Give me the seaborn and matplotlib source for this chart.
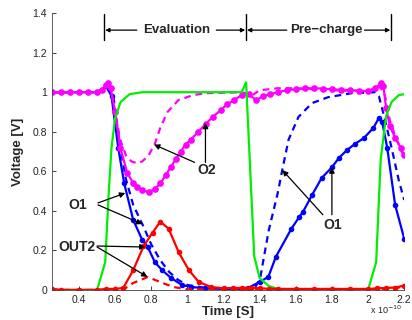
import numpy as np
import pandas as pd
import matplotlib
matplotlib.use("Agg")
import matplotlib.pyplot as plt
import seaborn as sns

# ---- data (time in units of 1e-10 s, voltage in V) ----
t_clk = [0.25, 0.5, 0.545, 0.565, 0.58, 0.6, 0.63, 0.68, 0.75, 1.3, 1.325, 1.345, 1.37, 1.4, 1.45, 1.5, 2.0, 2.045, 2.07, 2.1, 2.13, 2.17, 2.2]
v_clk = [0.0, 0.0, 0.14, 0.5, 0.72, 0.87, 0.95, 0.99, 1.0, 1.0, 1.05, 0.66, 0.17, 0.06, 0.02, 0.005, 0.0, 0.14, 0.66, 0.88, 0.95, 0.985, 0.99]

t_o2 = [0.25, 0.3, 0.35, 0.4, 0.45, 0.5, 0.53, 0.55, 0.56, 0.575, 0.6, 0.628, 0.668, 0.70, 0.723, 0.75, 0.785, 0.82, 0.851, 0.88, 0.907, 0.935, 0.963, 0.99, 1.019, 1.06, 1.102, 1.14, 1.186, 1.22, 1.258, 1.30, 1.34, 1.38, 1.42, 1.46, 1.5, 1.55, 1.6, 1.65, 1.7, 1.75, 1.8, 1.85, 1.9, 1.95, 2.0, 2.04, 2.07, 2.085, 2.1, 2.12, 2.15, 2.18, 2.2]
v_o2 = [1.0, 1.0, 1.0, 1.0, 1.0, 1.0, 1.01, 1.035, 1.045, 1.02, 0.9, 0.72, 0.59, 0.54, 0.52, 0.505, 0.495, 0.51, 0.54, 0.58, 0.62, 0.66, 0.70, 0.735, 0.76, 0.80, 0.84, 0.875, 0.91, 0.94, 0.96, 0.985, 0.99, 0.96, 0.98, 0.99, 1.0, 1.01, 1.015, 1.02, 1.02, 1.018, 1.015, 1.012, 1.01, 1.008, 1.005, 1.02, 1.045, 1.03, 0.92, 0.83, 0.77, 0.72, 0.68]

t_o2d = [0.25, 0.5, 0.53, 0.56, 0.575, 0.6, 0.628, 0.66, 0.69, 0.723, 0.75, 0.785, 0.82, 0.85, 0.89, 0.95, 1.03, 1.1, 1.3, 1.36, 1.4, 1.5, 1.6, 1.8, 2.0, 2.06, 2.09, 2.12, 2.15, 2.2]
v_o2d = [1.0, 1.0, 1.01, 1.04, 1.02, 0.9, 0.76, 0.68, 0.65, 0.64, 0.65, 0.68, 0.74, 0.82, 0.90, 0.96, 0.985, 0.995, 1.0, 0.985, 1.01, 1.02, 1.02, 1.01, 1.005, 1.03, 1.0, 0.86, 0.78, 0.67]

t_o1 = [0.25, 0.5, 0.55, 0.58, 0.617, 0.65, 0.70, 0.75, 0.78, 0.82, 0.86, 0.91, 0.97, 1.02, 1.1, 1.2, 1.3, 1.336, 1.4, 1.448, 1.49, 1.576, 1.62, 1.64, 1.69, 1.743, 1.8, 1.838, 1.883, 1.93, 1.977, 2.03, 2.06, 2.078, 2.106, 2.15, 2.2]
v_o1 = [1.0, 1.0, 1.03, 0.98, 0.72, 0.54, 0.354, 0.253, 0.218, 0.14, 0.10, 0.06, 0.025, 0.015, 0.008, 0.005, 0.005, 0.01, 0.04, 0.066, 0.168, 0.31, 0.37, 0.395, 0.48, 0.566, 0.62, 0.667, 0.707, 0.74, 0.768, 0.82, 0.87, 0.85, 0.72, 0.43, 0.26]

t_o1d = [0.25, 0.5, 0.56, 0.59, 0.625, 0.66, 0.70, 0.757, 0.8, 0.85, 0.9, 0.95, 1.0, 1.1, 1.2, 1.35, 1.38, 1.403, 1.45, 1.5, 1.526, 1.56, 1.615, 1.69, 1.78, 1.91, 2.04, 2.06, 2.09, 2.13, 2.17, 2.2]
v_o1d = [1.0, 1.0, 1.03, 0.98, 0.74, 0.56, 0.43, 0.32, 0.23, 0.15, 0.09, 0.05, 0.025, 0.01, 0.005, 0.005, 0.02, 0.06, 0.30, 0.49, 0.61, 0.76, 0.875, 0.945, 0.975, 0.995, 1.0, 0.98, 0.875, 0.72, 0.555, 0.455]

t_out2 = [0.25, 0.3, 0.4, 0.5, 0.55, 0.6, 0.645, 0.70, 0.757, 0.807, 0.85, 0.896, 0.952, 1.008, 1.063, 1.13, 1.2, 1.25, 1.3, 1.35, 1.4, 1.45, 1.5, 1.6, 1.7, 1.8, 1.9, 2.0, 2.05, 2.1, 2.15, 2.2]
v_out2 = [0.005, 0.0, 0.0, 0.0, 0.005, 0.005, 0.01, 0.10, 0.22, 0.29, 0.345, 0.31, 0.19, 0.10, 0.04, 0.015, 0.008, 0.01, 0.01, 0.012, 0.008, 0.006, 0.005, 0.005, 0.005, 0.005, 0.005, 0.005, 0.008, 0.01, 0.012, 0.022]

t_out2d = [0.25, 0.6, 0.65, 0.70, 0.78, 0.85, 0.92, 1.0, 1.3, 2.0, 2.1, 2.2]
v_out2d = [0.0, 0.0, 0.005, 0.035, 0.065, 0.04, 0.015, 0.003, 0.002, 0.002, 0.005, 0.015]

x_ticks = [0.4, 0.6, 0.8, 1.0, 1.2, 1.4, 1.6, 1.8, 2.0, 2.2]
x_ticklabels = ["0.4", "0.6", "0.8", "1", "1.2", "1.4", "1.6", "1.8", "2", "2.2"]
y_ticks = [0, 0.2, 0.4, 0.6, 0.8, 1.0, 1.2, 1.4]
y_ticklabels = ["0", "0.2", "0.4", "0.6", "0.8", "1", "1.2", "1.4"]

sns.set_style("ticks")
plt.rcParams['font.family'] = ['Liberation Sans', 'DejaVu Sans']
plt.rcParams['xtick.direction'] = 'in'
plt.rcParams['ytick.direction'] = 'in'

fig = plt.figure(figsize=(4.12, 3.2), dpi=100)
ax = fig.add_axes([0.126, 0.094, 0.855, 0.865])

MAG = "#FF00FF"
BLU = "#0000FF"
RED = "#FF0000"
GRN = "#00EE00"
LW = 1.6

def draw(t, v, color, dashed=False, marker=None, ms=4.0):
    df = pd.DataFrame({"t": t, "v": v})
    kw = dict(color=color, linewidth=LW, sort=False, estimator=None, ax=ax)
    if dashed:
        kw["linestyle"] = (0, (3.0, 2.2))
    if marker:
        kw.update(marker=marker, markersize=ms, markeredgewidth=0)
    sns.lineplot(data=df, x="t", y="v", **kw)

draw(t_o1d, v_o1d, BLU, dashed=True)
draw(t_o1, v_o1, BLU, marker="o", ms=4.0)
draw(t_o2d, v_o2d, MAG, dashed=True)
draw(t_o2, v_o2, MAG, marker="o", ms=4.8)
draw(t_clk, v_clk, GRN)
draw(t_out2d, v_out2d, RED, dashed=True)
draw(t_out2, v_out2, RED, marker="o", ms=4.0)

ax.set_xlim(0.25, 2.2)
ax.set_ylim(0, 1.4)
ax.set_xticks(x_ticks)
ax.set_xticklabels(x_ticklabels)
ax.set_yticks(y_ticks)
ax.set_yticklabels(y_ticklabels)
ax.tick_params(labelsize=7.5, length=3, width=0.6, colors="#222222")
for s in ["top", "right"]:
    ax.spines[s].set_visible(False)
for s in ["left", "bottom"]:
    ax.spines[s].set_linewidth(0.6)
    ax.spines[s].set_color("#444444")

ax.set_xlabel("Time [S]", fontsize=9.5, fontweight="bold", labelpad=1)
ax.set_ylabel("Voltage [V]", fontsize=9.5, fontweight="bold", labelpad=6)
fig.text(0.898, 0.018, r"x 10$^{-10}$", fontsize=6.5, color="#222222")

# phase brackets
for xv in [0.539, 1.325, 2.128]:
    ax.plot([xv, xv], [1.263, 1.395], color="black", lw=1.0, clip_on=False)
ap = dict(arrowstyle="-|>", color="black", lw=0.9, mutation_scale=6, shrinkA=0, shrinkB=0)
yb = 1.314
ax.annotate("", xy=(0.545, yb), xytext=(0.72, yb), arrowprops=ap)
ax.annotate("", xy=(1.32, yb), xytext=(1.16, yb), arrowprops=ap)
ax.annotate("", xy=(1.33, yb), xytext=(1.55, yb), arrowprops=ap)
ax.annotate("", xy=(2.123, yb), xytext=(1.98, yb), arrowprops=ap)
ax.text(0.94, yb, "Evaluation", fontsize=9.5, fontweight="bold", ha="center", va="center")
ax.text(1.77, yb, "Pre\u2212charge", fontsize=9.5, fontweight="bold", ha="center", va="center")

# labels with arrows
ap2 = dict(arrowstyle="-|>", color="black", lw=0.9, mutation_scale=8, shrinkA=0, shrinkB=0)
ax.text(1.108, 0.606, "O2", fontsize=10, fontweight="bold", ha="center", va="center")
ax.annotate("", xy=(0.815, 0.735), xytext=(1.04, 0.645), arrowprops=ap2)
ax.annotate("", xy=(1.10, 0.845), xytext=(1.10, 0.645), arrowprops=ap2)

ax.text(0.394, 0.43, "O1", fontsize=10, fontweight="bold", ha="center", va="center")
ax.annotate("", xy=(0.656, 0.49), xytext=(0.505, 0.44), arrowprops=ap2)
ax.annotate("", xy=(0.751, 0.333), xytext=(0.505, 0.43), arrowprops=ap2)

ax.text(0.39, 0.217, "OUT2", fontsize=10, fontweight="bold", ha="center", va="center")
ax.annotate("", xy=(0.768, 0.217), xytext=(0.5, 0.222), arrowprops=ap2)
ax.annotate("", xy=(0.779, 0.066), xytext=(0.5, 0.217), arrowprops=ap2)

ax.text(1.805, 0.33, "O1", fontsize=10, fontweight="bold", ha="center", va="center")
ax.annotate("", xy=(1.526, 0.606), xytext=(1.75, 0.38), arrowprops=ap2)
ax.annotate("", xy=(1.80, 0.62), xytext=(1.80, 0.38), arrowprops=ap2)

fig.savefig("out.png", dpi=100)
